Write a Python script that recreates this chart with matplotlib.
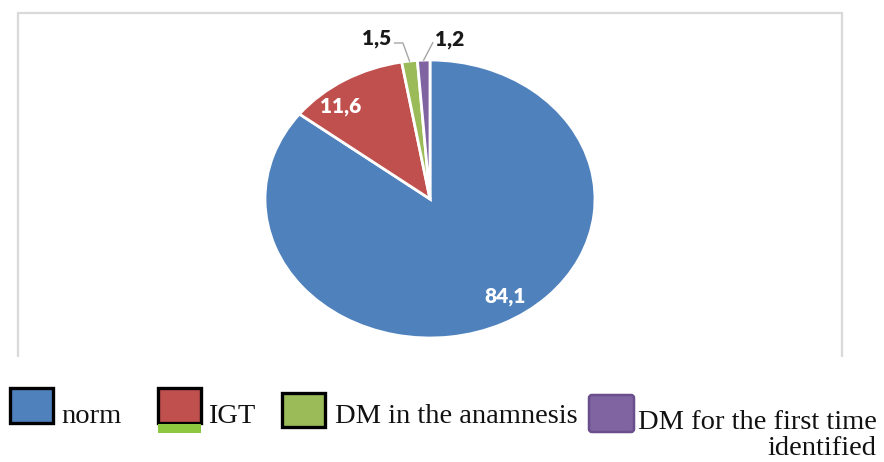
import matplotlib
matplotlib.use("Agg")
import matplotlib.pyplot as plt
from matplotlib.patches import Rectangle, FancyBboxPatch
import numpy as np

# Glucose tolerance groups, %
categories = ["norm", "IGT", "DM in the anamnesis", "DM for the first time\nidentified"]
values = [84.1, 11.6, 1.5, 1.2]
colors = ["#4F81BD", "#C0504D", "#9BBB59", "#8064A2"]

W, H = 884, 462
fig = plt.figure(figsize=(W / 100, H / 100), dpi=100)

# overlay in pixel units for the chart frame and the legend
ov = fig.add_axes([0, 0, 1, 1])
ov.set_xlim(0, W)
ov.set_ylim(H, 0)
ov.axis("off")
frame_col = "#d9d9d9"
ov.plot([18, 18, 842, 842], [357, 13, 13, 357], color=frame_col, lw=1.6,
        solid_capstyle="butt", solid_joinstyle="miter")

# pie area (elliptical: axis aspect left free)
cx, cy, rx, ry = 430, 199, 165, 139
pax = fig.add_axes([(cx - rx) / W, (H - cy - ry) / H, 2 * rx / W, 2 * ry / H])
wedges, _ = pax.pie(values, colors=colors, startangle=90, counterclock=False,
                    wedgeprops=dict(edgecolor="white", linewidth=2.0))
pax.set_aspect("auto")
pax.set_xlim(-1, 1)
pax.set_ylim(-1, 1)
pax.axis("off")

# label placement per slice: (radius, dx, dy, colour, leader end or None)
label_cfg = [
    (0.80, 0.10, 0.02, "white", None),
    (0.80, -0.13, -0.02, "white", None),
    (1.00, -0.20, 0.16, "#1a1a1a", [(-0.04, 0.13), (-0.09, 0.13)]),
    (1.00, 0.16, 0.15, "#1a1a1a", [(0.055, 0.125)]),
]
for w, v, (r, dx, dy, tc, leader) in zip(wedges, values, label_cfg):
    mid = np.deg2rad((w.theta1 + w.theta2) / 2)
    ux, uy = np.cos(mid), np.sin(mid)
    tx, ty = ux * r + dx, uy * r + dy
    txt = f"{v:.1f}".replace(".", ",")
    pax.text(tx, ty, txt, ha="center", va="center", color=tc,
             fontsize=15, fontweight="heavy", family="Lato")
    if leader:
        xs = [ux * 1.0] + [ux + p[0] for p in leader]
        ys = [uy * 1.0] + [uy + p[1] for p in leader]
        pax.plot(xs, ys, color="#a6a6a6", lw=1.0, clip_on=False)

# legend
sq_x = [10, 158, 282, 589]
sq_y = [388, 388, 393, 395]
sq_w = [43, 43, 43, 45]
sq_h = [35, 35, 34, 37]
txt_x = [61, 208, 335, 638]
txt_top = [404, 404, 404, 410]
for i, (cat, col) in enumerate(zip(categories, colors)):
    if i < 3:
        ov.add_patch(Rectangle((sq_x[i], sq_y[i]), sq_w[i], sq_h[i],
                               facecolor=col, edgecolor="black", lw=2.4))
    else:
        ov.add_patch(FancyBboxPatch((sq_x[i], sq_y[i]), sq_w[i], sq_h[i],
                                    boxstyle="round,pad=0,rounding_size=3",
                                    facecolor=col, edgecolor="#6a4f8c", lw=1.8))
    ov.text(txt_x[i], txt_top[i], cat, ha="left", va="top",
            multialignment="right", linespacing=1.05,
            fontsize=20.5, family="Liberation Serif", color="#111111")
# stray green strip under the IGT key
ov.add_patch(Rectangle((158, 424), 43, 9, facecolor="#8dc63f", edgecolor="none"))

fig.savefig("out.png", dpi=100)
